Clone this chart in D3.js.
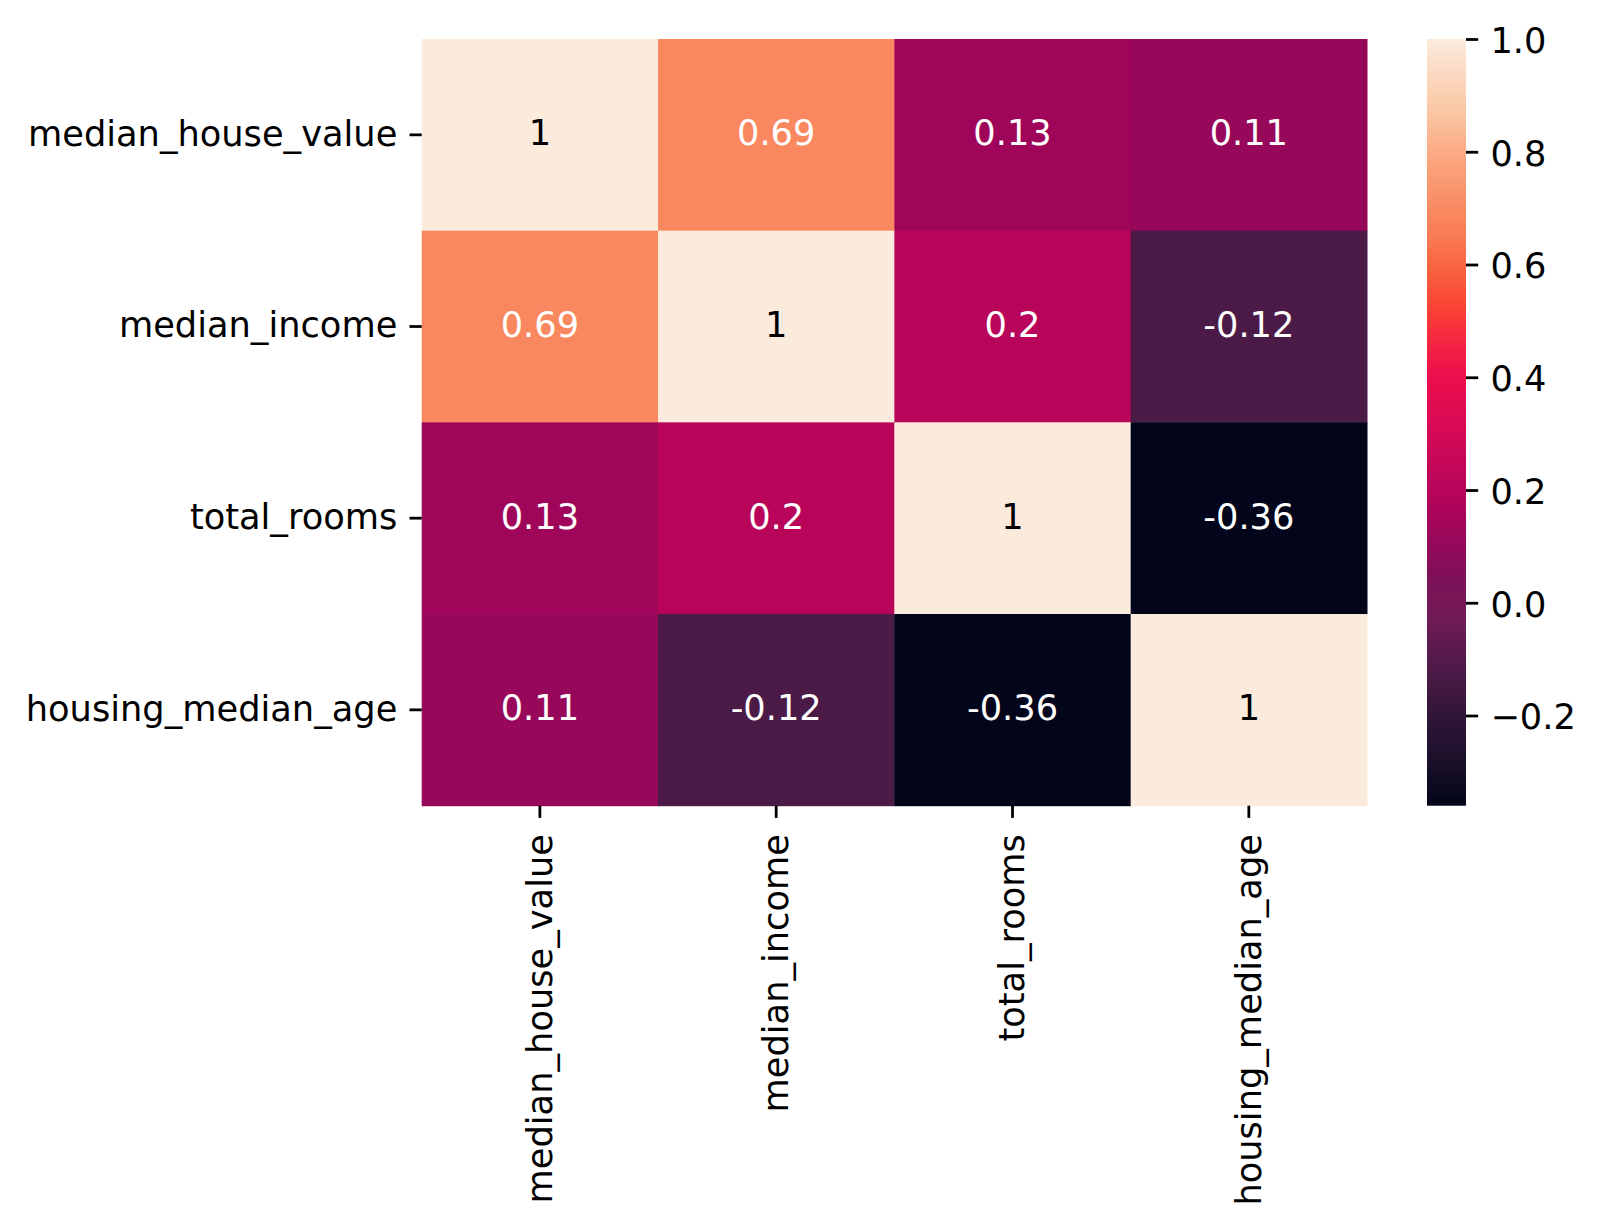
<!DOCTYPE html>
<html>
<head>
<meta charset="utf-8">
<script src="https://d3js.org/d3.v7.min.js"></script>
<style>
  body { margin: 0; background: white; }
  text { font-family: "DejaVu Sans", sans-serif; }
</style>
</head>
<body>
<svg id="chart" width="1600" height="1228"></svg>
<script>
// correlation matrix (rows and columns in the same order)
const features = ["median_house_value", "median_income", "total_rooms", "housing_median_age"];
const row_median_house_value = [1, 0.69, 0.13, 0.11];
const row_median_income = [0.69, 1, 0.2, -0.12];
const row_total_rooms = [0.13, 0.2, 1, -0.36];
const row_housing_median_age = [0.11, -0.12, -0.36, 1];
const matrix = [row_median_house_value, row_median_income, row_total_rooms, row_housing_median_age];

const colorbarTicks = [-0.2, 0.0, 0.2, 0.4, 0.6, 0.8, 1.0];

// "rocket"-like colormap, position 0..1 -> colour
const rocketStops = [0, 0.05, 0.11, 0.175, 0.24, 0.30, 0.36, 0.41, 0.50, 0.56, 0.61, 0.65, 0.70, 0.74, 0.83, 0.91, 1.0];
const rocketColors = ["#03051a", "#170f26", "#2e1537", "#4b1a46", "#6e1b56", "#7f1058", "#9f065a", "#b7055a",
                      "#da0a55", "#ec0f4c", "#f5283f", "#f94435", "#f9623f", "#f97a52", "#faa078", "#fbc8a6", "#fbebdd"];

const fontSize = 35.2;
const tickLen = 12.2, tickW = 2.78, pad = 12.2;

const svg = d3.select("#chart");
svg.append("rect").attr("width", 1600).attr("height", 1228).attr("fill", "white");

const plotLeft = 421.7, plotRight = 1367, plotTop = 39, plotBottom = 805.7;

const x = d3.scaleBand().domain(features).range([plotLeft, plotRight]);
const y = d3.scaleBand().domain(features).range([plotTop, plotBottom]);

const cells = [];
matrix.forEach((row, i) => row.forEach((v, j) => cells.push({r: features[i], c: features[j], v: v})));

const vmin = d3.min(cells, d => d.v), vmax = d3.max(cells, d => d.v);
const color = d3.scaleLinear()
  .domain(rocketStops.map(t => vmin + t * (vmax - vmin)))
  .range(rocketColors)
  .clamp(true);

// cells
svg.append("g").selectAll("rect").data(cells).join("rect")
  .attr("x", d => x(d.c))
  .attr("y", d => y(d.r))
  .attr("width", x.bandwidth() + 0.5)
  .attr("height", y.bandwidth() + 0.5)
  .attr("fill", d => color(d.v));

// annotations, text colour picked from cell luminance like seaborn
function luminance(c) {
  const rgb = d3.rgb(c);
  const f = u => { u /= 255; return u <= 0.03928 ? u / 12.92 : Math.pow((u + 0.055) / 1.055, 2.4); };
  return 0.2126 * f(rgb.r) + 0.7152 * f(rgb.g) + 0.0722 * f(rgb.b);
}
const fmt = d3.formatLocale({decimal: ".", thousands: ",", grouping: [3], currency: ["", ""], minus: "-"}).format(".2~g");

svg.append("g").selectAll("text").data(cells).join("text")
  .attr("x", d => x(d.c) + x.bandwidth() / 2)
  .attr("y", d => y(d.r) + y.bandwidth() / 2)
  .attr("dy", "0.3em")
  .attr("text-anchor", "middle")
  .style("font-size", fontSize + "px")
  .attr("fill", d => luminance(color(d.v)) > 0.408 ? "black" : "white")
  .text(d => fmt(d.v));

// y axis
const yAxis = svg.append("g")
  .attr("transform", `translate(${plotLeft},0)`)
  .call(d3.axisLeft(y).tickSize(tickLen).tickPadding(pad));
yAxis.select(".domain").remove();
yAxis.selectAll("line").attr("stroke", "black").attr("stroke-width", tickW);
yAxis.selectAll("text")
  .style("font-size", fontSize + "px")
  .attr("fill", "black")
  .attr("dy", "0.31em");

// x axis with vertical labels
const xAxis = svg.append("g")
  .attr("transform", `translate(0,${plotBottom})`)
  .call(d3.axisBottom(x).tickSize(tickLen));
xAxis.select(".domain").remove();
xAxis.selectAll("line").attr("stroke", "black").attr("stroke-width", tickW);
xAxis.selectAll("text")
  .style("font-size", fontSize + "px")
  .attr("fill", "black")
  .attr("transform", "rotate(-90)")
  .attr("text-anchor", "end")
  .attr("x", -(tickLen + pad + 4))
  .attr("y", 0)
  .attr("dy", "0.34em");

// colorbar
const cbLeft = 1427, cbWidth = 39;
const cbScale = d3.scaleLinear().domain([vmin, vmax]).range([plotBottom, plotTop]);

const defs = svg.append("defs");
const grad = defs.append("linearGradient")
  .attr("id", "cbgrad")
  .attr("x1", 0).attr("y1", 1).attr("x2", 0).attr("y2", 0);
d3.range(0, 1.0001, 0.01).forEach(t => {
  grad.append("stop")
    .attr("offset", t)
    .attr("stop-color", color(vmin + t * (vmax - vmin)));
});

svg.append("rect")
  .attr("x", cbLeft)
  .attr("y", cbScale(vmax))
  .attr("width", cbWidth)
  .attr("height", cbScale(vmin) - cbScale(vmax))
  .attr("fill", "url(#cbgrad)");

const cbAxis = svg.append("g")
  .attr("transform", `translate(${cbLeft + cbWidth},0)`)
  .call(d3.axisRight(cbScale).tickValues(colorbarTicks).tickFormat(d3.format(".1f")).tickSize(tickLen).tickPadding(pad));
cbAxis.select(".domain").remove();
cbAxis.selectAll("line").attr("stroke", "black").attr("stroke-width", tickW);
cbAxis.selectAll("text")
  .style("font-size", fontSize + "px")
  .attr("fill", "black")
  .attr("dy", "0.38em");
</script>
</body>
</html>
